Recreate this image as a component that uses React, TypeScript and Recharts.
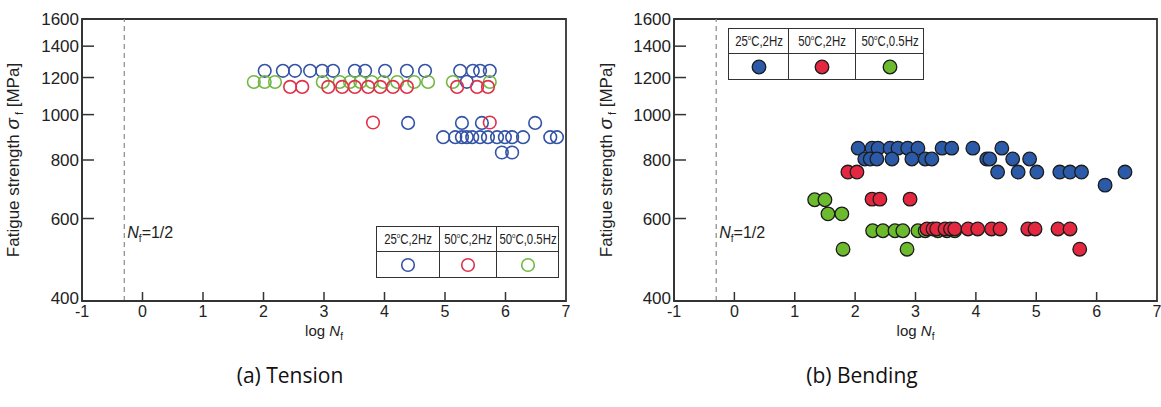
import React from "react"
import { ScatterChart, Scatter, XAxis, YAxis, ReferenceLine, ReferenceArea } from "recharts"

// values are [log Nf, stress MPa]
const tensionBlue25_2Hz: number[][] = [
  [2.02, 1240], [2.32, 1240], [2.52, 1240], [2.77, 1240], [2.97, 1240], [3.15, 1240],
  [3.51, 1240], [3.68, 1240], [4.01, 1240], [4.37, 1240], [4.67, 1240], [5.25, 1240],
  [5.46, 1240], [5.58, 1240], [5.74, 1240], [5.36, 1175],
  [4.39, 960], [5.28, 960], [5.61, 960], [6.49, 960],
  [4.97, 895], [5.17, 895], [5.28, 895], [5.36, 895], [5.45, 895], [5.58, 895], [5.71, 895],
  [5.86, 895], [5.99, 895], [6.11, 895], [6.29, 895], [6.74, 895], [6.85, 895],
  [5.94, 830], [6.11, 830],
]
const tensionGreen50_05Hz: number[][] = [
  [1.84, 1174], [2.02, 1174], [2.19, 1174], [2.98, 1174], [3.26, 1174], [3.43, 1174],
  [3.6, 1174], [3.79, 1174], [3.98, 1174], [4.21, 1174], [4.49, 1174], [4.72, 1174],
  [5.13, 1174], [5.74, 1174],
]
const tensionRed50_2Hz: number[][] = [
  [2.44, 1146], [2.64, 1146], [3.07, 1146], [3.3, 1146], [3.51, 1146], [3.73, 1146],
  [3.93, 1146], [4.14, 1146], [4.37, 1146], [5.2, 1146], [5.53, 1146], [5.71, 1146],
  [3.81, 962], [5.74, 962],
]

const bendingBlue25_2Hz: number[][] = [
  [2.05, 848], [2.28, 848], [2.38, 848], [2.58, 848], [2.71, 848], [2.87, 848],
  [3.04, 848], [3.44, 848], [3.6, 848], [3.95, 848], [4.43, 848],
  [2.16, 804], [2.25, 804], [2.36, 804], [2.61, 804], [2.94, 804], [3.16, 804],
  [3.27, 804], [4.18, 804], [4.23, 804], [4.61, 804], [4.89, 804],
  [4.36, 754], [4.7, 754], [5.01, 754], [5.39, 754], [5.56, 754], [5.75, 754], [6.47, 754],
  [6.14, 707],
]
const bendingGreen50_05Hz: number[][] = [
  [1.33, 658], [1.5, 658], [1.55, 614], [1.78, 614],
  [2.29, 565], [2.46, 565], [2.66, 565], [2.79, 565], [3.04, 565], [3.16, 565],
  [3.37, 565], [3.52, 565], [3.65, 565],
  [1.8, 516], [2.86, 516],
]
const bendingRed50_2Hz: number[][] = [
  [1.88, 754], [2.03, 754],
  [2.28, 660], [2.41, 660], [2.91, 660],
  [3.19, 570], [3.29, 570], [3.35, 570], [3.49, 570], [3.58, 570], [3.65, 570],
  [3.87, 570], [4.03, 570], [4.26, 570], [4.4, 570], [4.86, 570], [4.98, 570],
  [5.36, 570], [5.56, 570],
  [5.72, 516],
]

const xTicks = [-1, 0, 1, 2, 3, 4, 5, 6, 7]
const yTicks = [400, 600, 800, 1000, 1200, 1400, 1600]
const legendLabels = [["25", "C,2Hz"], ["50", "C,2Hz"], ["50", "C,0.5Hz"]]

const BLUE = "#3353a6"
const RED = "#e0304a"
const GREEN = "#72b843"
const BLUE_F = "#2b5aa8"
const RED_F = "#e3283f"
const GREEN_F = "#6cbb2f"
const INK = "#333"
const FONT = "Liberation Sans, Arial, Helvetica, sans-serif"
const txt = (size: number): React.CSSProperties => ({ fontFamily: FONT, fontSize: size })

const toPts = (arr: number[][]) => arr.map(([x, y]) => ({ x, y }))

const openDot = (color: string) => (p: any) => (
  <circle cx={p.cx} cy={p.cy} r={6.3} fill="none" stroke={color} strokeWidth={1.6} />
)
const fillDot = (color: string) => (p: any) => (
  <circle cx={p.cx} cy={p.cy} r={6.8} fill={color} stroke="#1c1c1c" strokeWidth={1.3} />
)

function XTick({ x, y, payload }: any) {
  const inner = payload.value > -1 && payload.value < 7
  return (
    <g>
      {inner && <line x1={x} y1={y} x2={x} y2={y - 9} stroke={INK} strokeWidth={1.5} />}
      <text x={x} y={y + 16} textAnchor="middle" fill="#222" style={txt(16)}>
        {payload.value}
      </text>
    </g>
  )
}

function YTick({ x, y, payload }: any) {
  const inner = payload.value > 400 && payload.value < 1600
  return (
    <g>
      {inner && <line x1={x} y1={y} x2={x + 12} y2={y} stroke={INK} strokeWidth={1.5} />}
      <text x={x - 3} y={payload.value === 400 ? y + 3 : y + 6} textAnchor="end" fill="#222" style={txt(17)}>
        {payload.value}
      </text>
    </g>
  )
}

function NfLabel({ viewBox }: any) {
  return (
    <text x={viewBox.x + 3} y={viewBox.y + viewBox.height * 0.775} fill="#222" style={txt(16)}>
      <tspan fontStyle="italic">N</tspan>
      <tspan dy={4} style={txt(10)}>f</tspan>
      <tspan dy={-4}>=1/2</tspan>
    </text>
  )
}

function YTitle({ cx, cy }: { cx: number; cy: number }) {
  return (
    <text x={cx} y={cy} transform={`rotate(-90 ${cx} ${cy})`} textAnchor="middle" fill="#222" style={txt(17)}>
      Fatigue strength <tspan fontStyle="italic" style={txt(19)}>σ</tspan>
      <tspan dy={4} style={txt(11)}> f</tspan>
      <tspan dy={-4}> [MPa]</tspan>
    </text>
  )
}

function Panel({
  width,
  marginLeft,
  marginRight,
  titleX,
  series,
  filled,
}: {
  width: number
  marginLeft: number
  marginRight: number
  titleX: number
  series: { data: number[][]; color: string }[]
  filled: boolean
}) {
  return (
    <ScatterChart width={width} height={350} margin={{ top: 19, right: marginRight, bottom: 19, left: marginLeft }}>
      <XAxis
        type="number"
        dataKey="x"
        domain={[-1, 7]}
        ticks={xTicks}
        interval={0}
        height={30}
        tickSize={0}
        tickMargin={0}
        tick={<XTick />}
        axisLine={{ stroke: INK, strokeWidth: 1.8 }}
        label={({ viewBox }: any) => (
          <text x={viewBox.x + viewBox.width / 2} y={viewBox.y + 35} textAnchor="middle" fill="#222" style={txt(15)}>
            log <tspan fontStyle="italic">N</tspan>
            <tspan dy={4} style={txt(10)}>f</tspan>
          </text>
        )}
      />
      <YAxis
        type="number"
        dataKey="y"
        scale="log"
        domain={[400, 1600]}
        ticks={yTicks}
        interval={0}
        allowDataOverflow
        width={80}
        tickSize={0}
        tickMargin={0}
        tick={<YTick />}
        axisLine={{ stroke: INK, strokeWidth: 1.8 }}
        label={({ viewBox }: any) => <YTitle cx={titleX} cy={viewBox.y + viewBox.height / 2} />}
      />
      <ReferenceArea x1={-1} x2={7} y1={400} y2={1600} fill="none" fillOpacity={0} stroke={INK} strokeWidth={1.8} />
      <ReferenceLine x={Math.log10(0.5)} stroke="#888" strokeDasharray="5 4" strokeWidth={1.2} label={NfLabel} />
      {series.map((s, i) => (
        <Scatter
          key={i}
          data={toPts(s.data)}
          isAnimationActive={false}
          shape={filled ? fillDot(s.color) : openDot(s.color)}
        />
      ))}
    </ScatterChart>
  )
}

function LegendTable({ left, top, widths, colors, filled }: any) {
  return (
    <div
      style={{
        position: "absolute",
        left,
        top,
        display: "grid",
        gridTemplateColumns: widths.map((w: number) => `${w}px`).join(" "),
        border: `1.6px solid ${INK}`,
        background: "#fff",
        fontFamily: FONT,
        fontSize: 15,
        color: "#222",
      }}
    >
      {legendLabels.map(([a, b], i) => (
        <div
          key={"h" + i}
          style={{
            position: "relative",
            height: 24,
            borderRight: i < 2 ? `1.6px solid ${INK}` : undefined,
            borderBottom: `1.6px solid ${INK}`,
          }}
        >
          <span
            style={{
              position: "absolute",
              left: "50%",
              top: 3,
              whiteSpace: "nowrap",
              transform: "translateX(-50%) scaleX(0.76)",
            }}
          >
            {a}
            <sup style={{ fontSize: 8 }}>o</sup>
            {b}
          </span>
        </div>
      ))}
      {colors.map((c: string, i: number) => (
        <div
          key={"c" + i}
          style={{
            height: 25,
            display: "flex",
            alignItems: "center",
            justifyContent: "center",
            borderRight: i < 2 ? `1.6px solid ${INK}` : undefined,
          }}
        >
          <svg width={16} height={16}>
            {filled ? (
              <circle cx={8} cy={8} r={6.8} fill={c} stroke="#1c1c1c" strokeWidth={1.3} />
            ) : (
              <circle cx={8} cy={8} r={6.3} fill="none" stroke={c} strokeWidth={1.6} />
            )}
          </svg>
        </div>
      ))}
    </div>
  )
}

export default function App() {
  const captionStyle: React.CSSProperties = {
    position: "absolute",
    top: 361,
    fontFamily: "'Open Sans', 'Noto Sans', sans-serif",
    fontSize: 21,
    color: "#111",
    transform: "translateX(-50%)",
    whiteSpace: "nowrap",
  }
  return (
    <div style={{ position: "absolute", left: 0, top: 0, width: 1161, height: 407, background: "#fff" }}>
      <div style={{ position: "absolute", left: 0, top: 0 }}>
        <Panel
          width={580}
          marginLeft={2}
          marginRight={14}
          titleX={19}
          filled={false}
          series={[
            { data: tensionBlue25_2Hz, color: BLUE },
            { data: tensionGreen50_05Hz, color: GREEN },
            { data: tensionRed50_2Hz, color: RED },
          ]}
        />
      </div>
      <div style={{ position: "absolute", left: 580, top: 0 }}>
        <Panel
          width={581}
          marginLeft={14}
          marginRight={4}
          titleX={32}
          filled={true}
          series={[
            { data: bendingBlue25_2Hz, color: BLUE_F },
            { data: bendingGreen50_05Hz, color: GREEN_F },
            { data: bendingRed50_2Hz, color: RED_F },
          ]}
        />
      </div>
      <LegendTable left={376} top={226} widths={[63, 57, 61]} colors={[BLUE, RED, GREEN]} filled={false} />
      <LegendTable left={728} top={28} widths={[60, 67, 67]} colors={[BLUE_F, RED_F, GREEN_F]} filled={true} />
      <div style={{ ...captionStyle, left: 290 }}>(a) Tension</div>
      <div style={{ ...captionStyle, left: 862 }}>(b) Bending</div>
    </div>
  )
}
